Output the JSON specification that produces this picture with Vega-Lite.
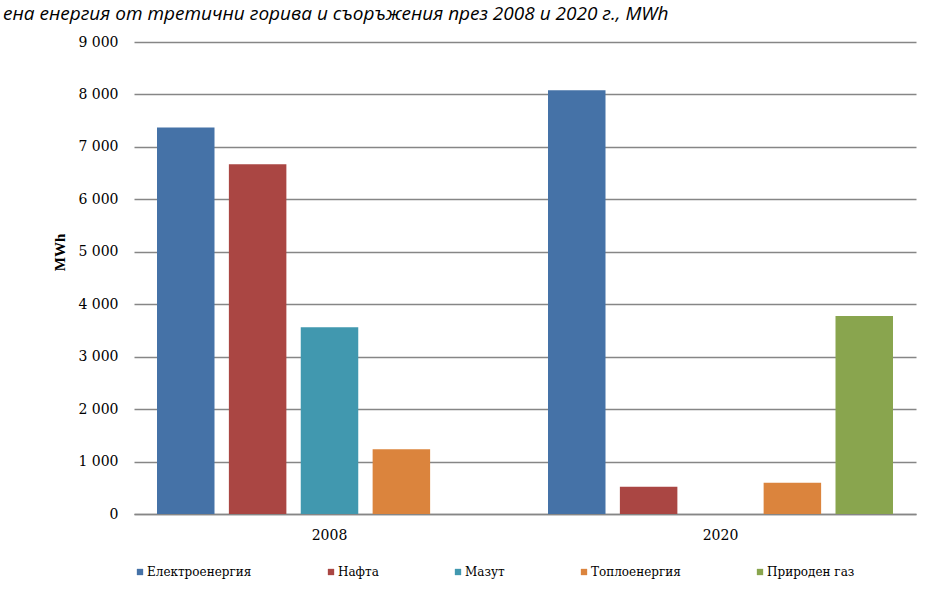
{
  "$schema": "https://vega.github.io/schema/vega-lite/v6.json",
  "width": 782,
  "height": 472,
  "autosize": {"type": "none"},
  "padding": {"left": 134, "top": 42, "right": 13, "bottom": 75},
  "background": "white",
  "title": {
    "text": "ена енергия от третични горива и съоръжения през 2008 и 2020 г., MWh",
    "anchor": "start",
    "frame": "group",
    "font": "Open Sans",
    "fontStyle": "italic",
    "fontWeight": "normal",
    "fontSize": 19,
    "color": "#000000",
    "dx": -131,
    "dy": -7
  },
  "data": {
    "values": [
      {"year": "2008", "fuel": "Електроенергия", "value": 7370},
      {"year": "2008", "fuel": "Нафта", "value": 6670},
      {"year": "2008", "fuel": "Мазут", "value": 3560},
      {"year": "2008", "fuel": "Топлоенергия", "value": 1235},
      {"year": "2008", "fuel": "Природен газ", "value": 0},
      {"year": "2020", "fuel": "Електроенергия", "value": 8080},
      {"year": "2020", "fuel": "Нафта", "value": 520},
      {"year": "2020", "fuel": "Мазут", "value": 0},
      {"year": "2020", "fuel": "Топлоенергия", "value": 597},
      {"year": "2020", "fuel": "Природен газ", "value": 3776}
    ]
  },
  "mark": {"type": "bar"},
  "encoding": {
    "x": {
      "field": "year",
      "type": "nominal",
      "scale": {"paddingInner": 0, "paddingOuter": 0},
      "axis": {
        "title": null,
        "labelAngle": 0,
        "ticks": false,
        "labelPadding": 14,
        "labelFont": "DejaVu Serif",
        "labelFontSize": 14,
        "labelColor": "#000000",
        "domainColor": "#868686",
        "domainWidth": 1.5
      }
    },
    "xOffset": {
      "field": "fuel",
      "type": "nominal",
      "sort": ["Електроенергия", "Нафта", "Мазут", "Топлоенергия", "Природен газ"],
      "scale": {"paddingInner": 0.2, "paddingOuter": 0.32}
    },
    "y": {
      "field": "value",
      "type": "quantitative",
      "scale": {"domain": [0, 9000]},
      "axis": {
        "title": "MWh",
        "values": [0, 1000, 2000, 3000, 4000, 5000, 6000, 7000, 8000, 9000],
        "labelExpr": "replace(format(datum.value, ','), ',', ' ')",
        "domain": false,
        "ticks": false,
        "labelPadding": 16,
        "labelFont": "DejaVu Serif",
        "labelFontSize": 14,
        "labelColor": "#000000",
        "gridColor": "#868686",
        "gridWidth": 1.5,
        "titleFont": "Liberation Serif",
        "titleFontSize": 15,
        "titleFontWeight": "bold",
        "titleColor": "#000000",
        "titleY": 210,
        "titlePadding": 10
      }
    },
    "color": {
      "field": "fuel",
      "type": "nominal",
      "scale": {
        "domain": ["Електроенергия", "Нафта", "Мазут", "Топлоенергия", "Природен газ"],
        "range": ["#4572A7", "#AA4643", "#4198AF", "#DB843D", "#89A54E"]
      },
      "legend": {
        "title": null,
        "orient": "none",
        "direction": "horizontal",
        "legendX": 0,
        "legendY": 524,
        "symbolType": "square",
        "symbolSize": 40,
        "symbolStrokeWidth": 0,
        "labelFont": "DejaVu Serif",
        "labelFontSize": 12,
        "labelColor": "#000000",
        "labelOffset": 1,
        "columnPadding": 73
      }
    }
  },
  "config": {
    "view": {"stroke": null}
  }
}
